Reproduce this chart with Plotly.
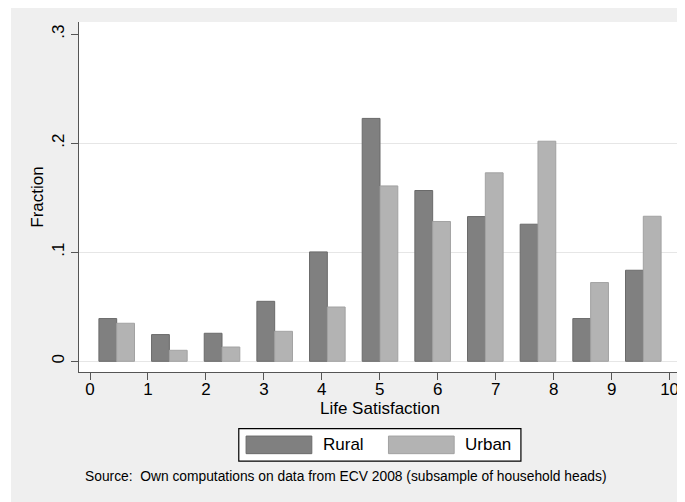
import plotly.graph_objects as go

# ---- data ----
categories = [str(i) for i in range(11)]
rural = [0.0392, 0.0245, 0.0257, 0.0550, 0.1003, 0.2227, 0.1566, 0.1327, 0.1257, 0.0392, 0.0835]
urban = [0.0349, 0.0101, 0.0131, 0.0275, 0.0498, 0.1608, 0.1282, 0.1728, 0.2018, 0.0722, 0.1330]
series_names = ["Rural", "Urban"]
x_ticks = list(range(11))
y_ticks_main = [0, 0.1, 0.2]
y_tick_labels_main = ["0", ".1", ".2"]
y_ticks_top = [0.3]
y_tick_labels_top = [".3"]
source_text = "Source:  Own computations on data from ECV 2008 (subsample of household heads)"

# ---- geometry (window pixels; the page body adds an 8px offset) ----
OFF = 8
WIN_W, WIN_H = 685, 502
W, H = WIN_W - OFF, WIN_H - OFF
PL, PR, PT, PB = 79, 680.7, 22, 371.7      # plot area in window pixels
L, R, T, B = PL - OFF, WIN_W - PR, PT - OFF, WIN_H - PB
PW, PH = W - L - R, H - T - B

def px(x):
    return (x - OFF - L) / PW

def py(y):
    return (H - B - (y - OFF)) / PH

FONT = "Liberation Sans, Arial, Helvetica, sans-serif"
AXC = "#555555"
RURAL_FILL, RURAL_LINE = "#808080", "#6a6a6a"
URBAN_FILL, URBAN_LINE = "#b3b3b3", "#a2a2a2"
BG = "#efefef"

fig = go.Figure()
fig.add_trace(go.Bar(x=categories, y=rural, name=series_names[0],
                     marker=dict(color=RURAL_FILL, line=dict(color=RURAL_LINE, width=1)),
                     xaxis="x", yaxis="y"))
fig.add_trace(go.Bar(x=categories, y=urban, name=series_names[1],
                     marker=dict(color=URBAN_FILL, line=dict(color=URBAN_LINE, width=1)),
                     xaxis="x", yaxis="y"))
# empty trace to anchor overlay axes
fig.add_trace(go.Scatter(x=[], y=[], xaxis="x2", yaxis="y2", showlegend=False))

yr = [-0.0098, 0.3111]

fig.update_layout(
    width=W, height=H,
    margin=dict(l=L, r=R, t=T, b=B, pad=0, autoexpand=False),
    paper_bgcolor=BG, plot_bgcolor="white",
    font=dict(family=FONT, size=17, color="black"),
    showlegend=False,
    barmode="group", bargap=0.324, bargroupgap=0,
    xaxis=dict(type="category", range=[-0.716, 10.716], visible=False,
               showgrid=False, zeroline=False, fixedrange=True),
    xaxis2=dict(overlaying="x", anchor="y", side="bottom", range=[-0.19, 10.197],
                tickmode="array", tickvals=x_ticks, ticktext=[str(v) for v in x_ticks],
                ticks="outside", ticklen=7, tickcolor=AXC, tickwidth=1,
                ticklabelstandoff=-6,
                showline=True, linecolor=AXC, linewidth=1.3,
                showgrid=False, zeroline=False,
                tickfont=dict(size=17),
                title=dict(text="Life Satisfaction", standoff=0, font=dict(size=17))),
    yaxis=dict(range=yr, tickmode="array", tickvals=y_ticks_main, ticktext=y_tick_labels_main,
               tickangle=-90, ticks="outside", ticklen=7, tickcolor=AXC, tickwidth=1,
               showline=True, linecolor=AXC, linewidth=1.3,
               showgrid=True, gridcolor="#e6e6e6", gridwidth=1, zeroline=False,
               tickfont=dict(size=17),
               title=dict(text="Fraction", standoff=1, font=dict(size=17))),
    yaxis2=dict(overlaying="y", anchor="x2", side="left", range=yr,
                tickmode="array", tickvals=y_ticks_top, ticktext=y_tick_labels_top,
                tickangle=-90, ticks="outside", ticklen=7, tickcolor=AXC, tickwidth=1,
                showline=False, showgrid=False, zeroline=False,
                tickfont=dict(size=17)),
)

shapes = [
    # white page border strip on the left
    dict(type="rect", xref="paper", yref="paper", x0=px(OFF), x1=px(11), y0=py(WIN_H), y1=py(OFF),
         fillcolor="white", line=dict(width=0), layer="below"),
    # legend box
    dict(type="rect", xref="paper", yref="paper", x0=px(238.7), x1=px(520.7), y0=py(460.7), y1=py(428.3),
         fillcolor="white", line=dict(color="black", width=1.2)),
    dict(type="rect", xref="paper", yref="paper", x0=px(246), x1=px(311.7), y0=py(453.3), y1=py(435.7),
         fillcolor=RURAL_FILL, line=dict(color=RURAL_LINE, width=1)),
    dict(type="rect", xref="paper", yref="paper", x0=px(388.3), x1=px(454), y0=py(453.3), y1=py(435.7),
         fillcolor=URBAN_FILL, line=dict(color=URBAN_LINE, width=1)),
]
fig.update_layout(shapes=shapes)

fig.add_annotation(xref="paper", yref="paper", x=px(321), y=py(444.5), text=series_names[0],
                   showarrow=False, xanchor="left", yanchor="middle", font=dict(size=17))
fig.add_annotation(xref="paper", yref="paper", x=px(462.5), y=py(444.5), text=series_names[1],
                   showarrow=False, xanchor="left", yanchor="middle", font=dict(size=17))
fig.add_annotation(xref="paper", yref="paper", x=px(82.5), y=py(475.7), text=source_text,
                   showarrow=False, xanchor="left", yanchor="middle", font=dict(size=13.8))

fig.write_html("out.html")
